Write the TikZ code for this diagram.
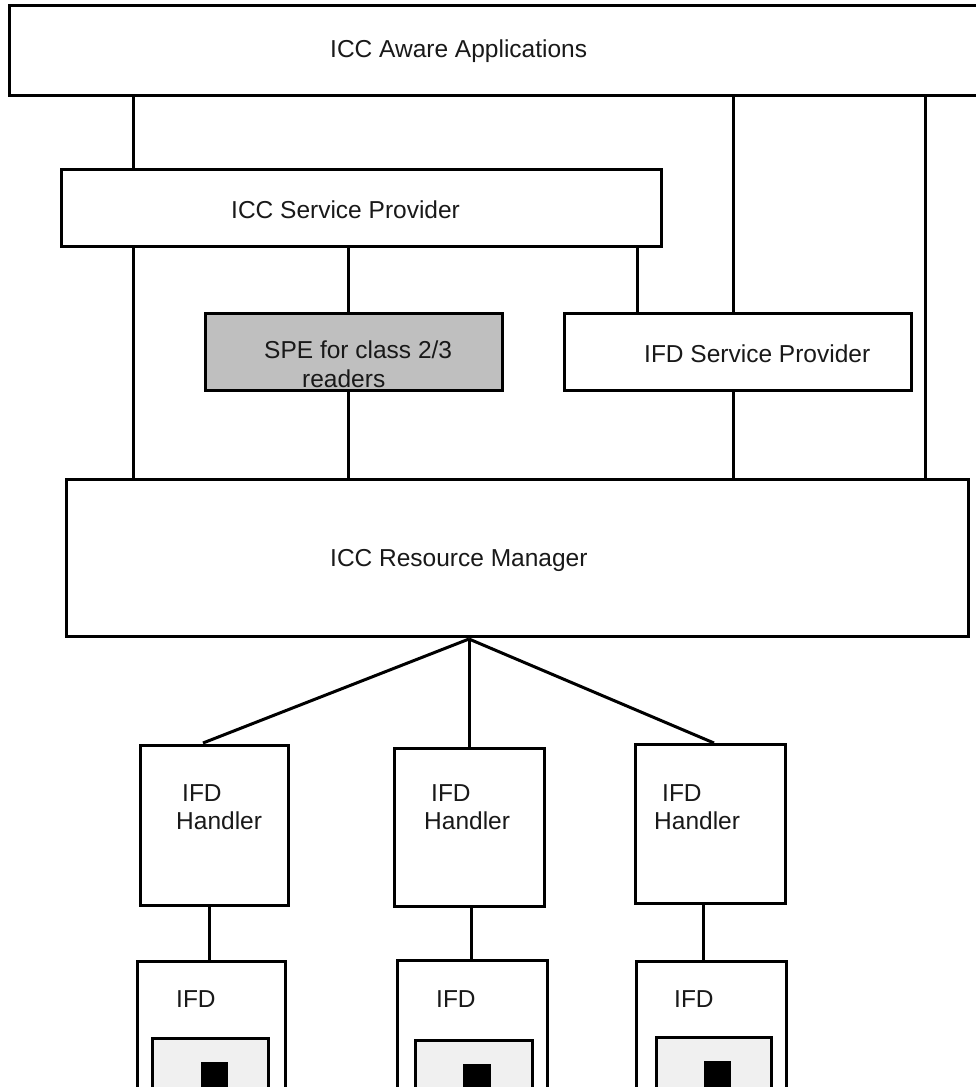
\documentclass[tikz,border=0pt]{standalone}
\usepackage{fontspec}
\setmainfont{Liberation Sans}
\begin{document}
\begin{tikzpicture}[x=1pt,y=-1pt,
  box/.style={draw=black, line width=3pt, fill=white, inner sep=0pt, outer sep=0pt, rectangle},
  greybox/.style={box, fill=black!25},
  cardbox/.style={box, fill=black!6},
  chip/.style={fill=black, draw=none, inner sep=0pt, outer sep=0pt, rectangle},
  lbl/.style={anchor=base west, inner sep=0pt, font=\fontsize{24.5}{29}\selectfont, text=black!90},
  conn/.style={draw=black, line width=3pt}]
\useasboundingbox (0,0) rectangle (976,1087);
\clip (0,0) rectangle (976,1087);
\fill[white] (0,0) rectangle (976,1087);
% boxes
\node[box, minimum width=976, minimum height=90] (aware) at (497,50) {};
\node[box, minimum width=600, minimum height=77] (sp) at (361,207.5) {};
\node[greybox, minimum width=297, minimum height=77] (spe) at (353.5,351.5) {};
\node[box, minimum width=347, minimum height=77] (ifdsp) at (737.5,351.5) {};
\node[box, minimum width=902, minimum height=157] (rm) at (517,557.5) {};
\node[box, minimum width=148, minimum height=160] (h1) at (214,825) {};
\node[box, minimum width=150, minimum height=158] (h2) at (469,827) {};
\node[box, minimum width=150, minimum height=159] (h3) at (710,823.5) {};
\node[box, minimum width=148, minimum height=139] (d1) at (211,1030.5) {};
\node[box, minimum width=150, minimum height=140] (d2) at (472,1030) {};
\node[box, minimum width=150, minimum height=139] (d3) at (711,1030.5) {};
\node[cardbox, minimum width=116, minimum height=62] (c1) at (210,1069) {};
\node[cardbox, minimum width=117, minimum height=60] (c2) at (473.5,1070) {};
\node[cardbox, minimum width=115, minimum height=63] (c3) at (713.5,1068.5) {};
\node[chip, minimum width=27, minimum height=38] (s1) at (214.5,1081) {};
\node[chip, minimum width=28, minimum height=36] (s2) at (477,1082) {};
\node[chip, minimum width=27, minimum height=39] (s3) at (717.5,1080.5) {};
% labels
\node[lbl] (t-aware) at (330,57) {ICC Aware Applications};
\node[lbl] (t-sp) at (231,218) {ICC Service Provider};
\node[lbl] (t-spe1) at (264,358) {SPE for class 2/3};
\node[lbl] (t-spe2) at (302,387) {readers};
\node[lbl] (t-ifdsp) at (644,362) {IFD Service Provider};
\node[lbl] (t-rm) at (330,566) {ICC Resource Manager};
\node[lbl] (t-h1a) at (182,801) {IFD};
\node[lbl] (t-h1b) at (176,829) {Handler};
\node[lbl] (t-h2a) at (431,801) {IFD};
\node[lbl] (t-h2b) at (424,829) {Handler};
\node[lbl] (t-h3a) at (662,801) {IFD};
\node[lbl] (t-h3b) at (654,829) {Handler};
\node[lbl] (t-d1) at (176,1007) {IFD};
\node[lbl] (t-d2) at (436,1007) {IFD};
\node[lbl] (t-d3) at (674,1007) {IFD};
% connectors
\draw[conn] (133,0 |- aware.south) -- (133,0 |- sp.north);
\draw[conn] (733,0 |- aware.south) -- (733,0 |- ifdsp.north);
\draw[conn] (925,0 |- aware.south) -- (925,0 |- rm.north);
\draw[conn] (133,0 |- sp.south) -- (133,0 |- rm.north);
\draw[conn] (348,0 |- sp.south) -- (348,0 |- spe.north);
\draw[conn] (348,0 |- spe.south) -- (348,0 |- rm.north);
\draw[conn] (637,0 |- sp.south) -- (637,0 |- ifdsp.north);
\draw[conn] (733,0 |- ifdsp.south) -- (733,0 |- rm.north);
\coordinate (apex) at (469,639);
\draw[conn] (apex) -- (203,743);
\draw[conn] (apex) -- (469,0 |- h2.north);
\draw[conn] (apex) -- (714,743);
\draw[conn] (209,0 |- h1.south) -- (209,0 |- d1.north);
\draw[conn] (471,0 |- h2.south) -- (471,0 |- d2.north);
\draw[conn] (703,0 |- h3.south) -- (703,0 |- d3.north);
\end{tikzpicture}
\end{document}
